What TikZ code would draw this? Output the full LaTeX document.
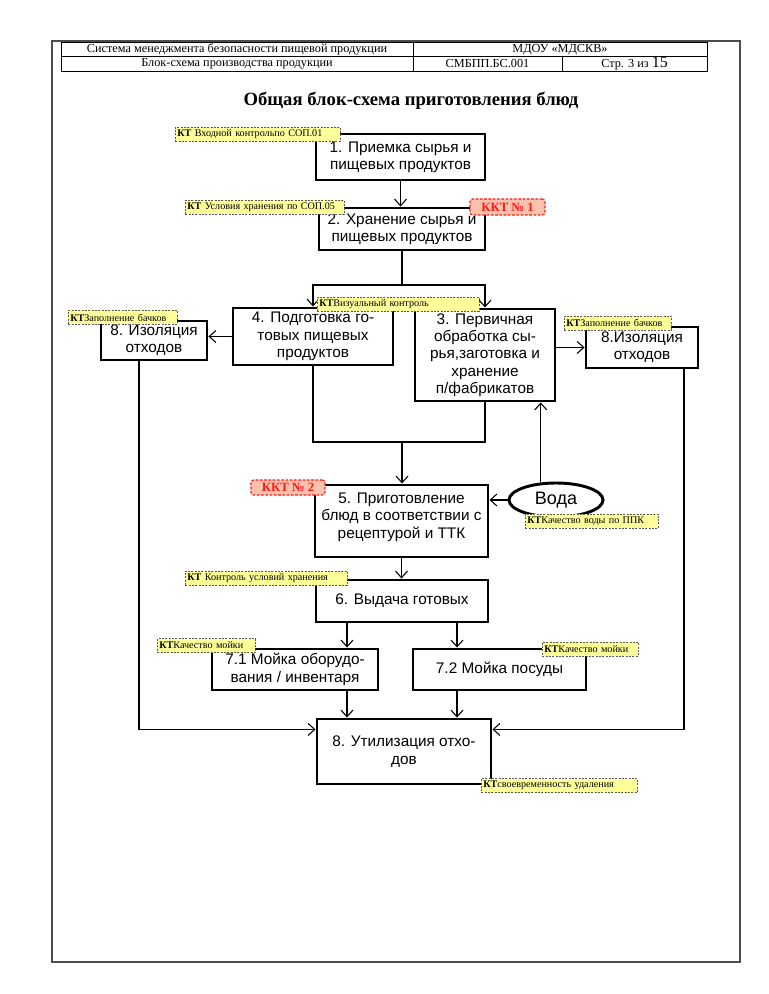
\documentclass[tikz,border=0pt]{standalone}
\usepackage{fontspec}
\setmainfont{Liberation Serif}
\setsansfont{Liberation Sans}
\usetikzlibrary{arrows.meta, calc, shapes.geometric}

\definecolor{ktfill}{HTML}{FFFF99}
\definecolor{kktfill}{HTML}{F9C2AC}
\definecolor{kktred}{HTML}{FF1A1A}

\begin{document}
\begin{tikzpicture}[x=0.75pt, y=-0.75pt,
    blk/.style={draw, line width=2.2pt, align=center, inner sep=1pt,
        font=\sffamily\fontsize{11.5}{13}\selectfont},
    kt/.style={draw=gray!70!black, dash pattern=on 1.5pt off 1pt, fill=ktfill,
        anchor=west, text width=#1, align=left, inner xsep=1.5pt, inner ysep=1pt,
        minimum height=10.5pt, font=\fontsize{7.6}{8}\selectfont},
    kt/.default=100pt,
    kkt/.style={draw=kktred, dash pattern=on 2pt off 1.2pt, line width=0.8pt,
        rounded corners=2pt, fill=kktfill, text=kktred, inner sep=1pt,
        font=\bfseries\fontsize{9.5}{10}\selectfont},
    hd/.style={font=\fontsize{9.2}{10}\selectfont},
    arr/.style={-{Straight Barb[length=5pt,width=9pt]}, line width=0.8pt},
    ln/.style={line width=0.8pt}]
    \useasboundingbox (0,0) rectangle (768,994);

    % Page frame and header
    \draw[gray!60!black, line width=0.8pt] (52,41) rectangle (740,962);
    \draw[line width=0.5pt] (61,42) rectangle (707,71);
    \draw[line width=0.5pt] (61,56.5) -- (707,56.5);
    \draw[line width=0.5pt] (413,42) -- (413,71);
    \draw[line width=0.5pt] (562,56.5) -- (562,71);
    \node[hd] (hsys) at (237,49.5) {Система менеджмента безопасности пищевой продукции};
    \node[hd] (horg) at (560,49.5) {МДОУ «МДСКВ»};
    \node[hd] (hdoc) at (237,64) {Блок-схема производства продукции};
    \node[hd] (hcode) at (487.5,64) {СМБПП.БС.001};
    \node[hd] (hpage) at (634.5,63.5) {Стр. 3 из {\fontsize{12}{12}\selectfont 15}};

    % Title
    \node[font=\bfseries\fontsize{14}{16}\selectfont] (title) at (411,101) {Общая блок-схема приготовления блюд};

    % Process steps
    \node[blk, minimum width=126.75pt, minimum height=34.5pt] (b1) at (400.5,157) {1. Приемка сырья и\\пищевых продуктов};
    \node[blk, minimum width=124.5pt, minimum height=31.5pt] (b2) at (402,229) {2. Хранение сырья и\\пищевых продуктов};
    \node[blk, minimum width=120pt, minimum height=42.75pt] (b4) at (313,336.5) {4. Подготовка го-\\товых пищевых\\продуктов};
    \node[blk, minimum width=105pt, minimum height=69pt] (b3) at (485,355) {3. Первичная\\обработка сы-\\рья,заготовка и\\хранение\\п/фабрикатов};
    \node[blk, minimum width=79.5pt, minimum height=29.25pt] (b8l) at (154,340.5) {8. Изоляция\\отходов};
    \node[blk, minimum width=84pt, minimum height=30.75pt] (b8r) at (642,347.5) {8.Изоляция\\отходов};
    \node[blk, minimum width=129.75pt, minimum height=54pt] (b5) at (401.5,521) {5. Приготовление\\блюд в соответствии с\\рецептурой и ТТК\\[-5pt]\mbox{}};
    \node[draw, ellipse, line width=2.2pt, minimum width=70.5pt, minimum height=25.5pt, inner sep=0pt,
        font=\sffamily\fontsize{13.5}{14}\selectfont] (voda) at (556,500) {Вода};
    \node[blk, minimum width=129pt, minimum height=31.5pt] (b6) at (402,601) {6. Выдача готовых};
    \node[blk, minimum width=124.5pt, minimum height=30.75pt] (b71) at (295,669.5) {7.1 Мойка оборудо-\\вания / инвентаря};
    \node[blk, minimum width=129.75pt, minimum height=30.75pt] (b72) at (499.5,669.5) {7.2 Мойка посуды};
    \node[blk, minimum width=130.5pt, minimum height=48.75pt] (b9) at (404,751.5) {8. Утилизация отхо-\\дов};

    % Connectors
    \coordinate (sp) at (402,285);
    \coordinate (mj) at (402,442);
    \draw[arr] (b1.south) -- (b1.south |- b2.north);
    \draw[ln] (b2.south) -- (sp);
    \draw[arr] (sp) -| (b4.north);
    \draw[arr] (sp) -| (b3.north);
    \draw[arr] (b4.west) -- (b4.west -| b8l.east);
    \draw[arr] (b8r.west -| b3.east) -- (b8r.west);
    \draw[ln] (b4.south) |- (mj) -| (b3.south);
    \draw[arr] (mj) -- (mj |- b5.north);
    \draw[arr] (voda.west) -- (voda.west -| b5.east);
    \draw[arr] (voda.131) -- (voda.131 |- b3.south);
    \draw[arr] (b5.south) -- (b5.south |- b6.north);
    \coordinate (d71) at ([xshift=-41.25pt]b6.south);
    \coordinate (d72) at ([xshift=41.25pt]b6.south);
    \draw[arr] (d71) -- (d71 |- b71.north);
    \draw[arr] (d72) -- (d72 |- b72.north);
    \draw[arr] (d71 |- b71.south) -- (d71 |- b9.north);
    \draw[arr] (d72 |- b72.south) -- (d72 |- b9.north);
    \coordinate (l8) at ([xshift=-11.25pt]b8l.south);
    \coordinate (r8) at ([xshift=31.5pt]b8r.south);
    \draw[arr] (l8) |- (b9.166);
    \draw[arr] (r8) |- (b9.14);

    % Control points
    \node[kt=120.75pt] (kt1) at (175,134.5) {\textbf{КТ} Входной контрольпо СОП.01};
    \node[kt=116pt] (kt2) at (185,207.5) {\textbf{КТ} Условия хранения по СОП.05};
    \node[kkt, minimum width=56.25pt, minimum height=12pt] (kkt1) at (507.5,207) {ККТ № 1};
    \node[kt=118.5pt] (kt4) at (317,304) {\textbf{КТ}Визуальный контроль};
    \node[kt=78.75pt] (kt8l) at (68,317.5) {\textbf{КТ}Заполнение бачков};
    \node[kt=77.25pt] (kt8r) at (564,323) {\textbf{КТ}Заполнение бачков};
    \node[kkt, minimum width=55.5pt, minimum height=11.25pt] (kkt2) at (288,487.5) {ККТ № 2};
    \node[kt=96.75pt] (ktw) at (525,521) {\textbf{КТ}Качество воды по ППК};
    \node[kt=118.5pt] (kt6) at (185,578) {\textbf{КТ} Контроль условий хранения};
    \node[kt=70.5pt] (kt71) at (157,645.5) {\textbf{КТ}Качество мойки};
    \node[kt=69pt] (kt72) at (542,649) {\textbf{КТ}Качество мойки};
    \node[kt=114pt] (kt9) at (481,785.5) {\textbf{КТ}своевременность удаления};
\end{tikzpicture}
\end{document}
